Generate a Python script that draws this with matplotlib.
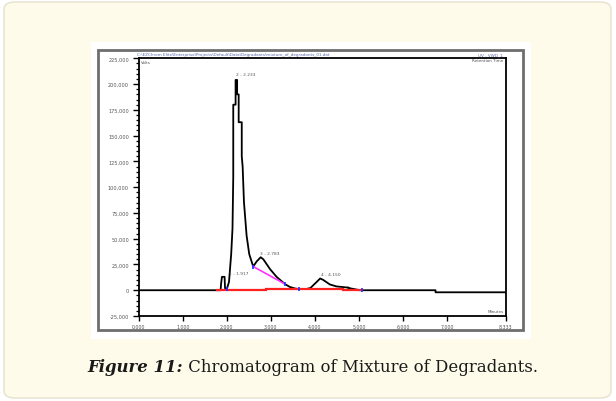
import matplotlib
matplotlib.use("Agg")
import matplotlib.pyplot as plt
from matplotlib.patches import FancyBboxPatch, Rectangle
from matplotlib.ticker import MultipleLocator, FixedLocator

# ---------------- data ----------------
trace_t = [0.00, 1.77, 1.86, 1.87, 1.89, 1.95, 1.96, 2.00, 2.05, 2.10, 2.13, 2.147, 2.147,
           2.20, 2.20, 2.235, 2.235, 2.27, 2.27, 2.34, 2.34, 2.36, 2.39, 2.45, 2.51, 2.60,
           2.68, 2.77, 2.83, 2.98, 3.13, 3.32, 3.43, 3.55, 3.62, 3.81, 3.90, 4.04, 4.12,
           4.19, 4.34, 4.49, 4.72, 4.76, 4.76, 4.99, 5.00, 6.74, 6.74, 8.333]
trace_v = [0, 0, 0, 6000, 13000, 13000, 2000, 1000, 8000, 35000, 60000, 110000, 180000,
           180000, 204000, 204000, 190000, 190000, 163000, 163000, 130000, 120000, 85500,
           53000, 35000, 23000, 28000, 32000, 30000, 20600, 13000, 6000, 3200, 1700, 1200,
           1200, 2200, 8000, 11400, 10000, 5600, 3700, 2700, 2700, 2200, 300, 0, 0, -2000,
           -2000]

baseline_segments = [((1.77, 2.90), (0, 0)), ((2.90, 4.64), (1300, 1300)), ((4.64, 5.06), (0, 0))]
drop_line_t = [2.60, 3.32]
drop_line_v = [23000, 6000]
marker_t = [2.00, 2.60, 3.32, 3.65, 5.06]
marker_v = [1000, 23000, 6000, 1200, 0]

peak_labels = ["1 - 1.917", "2 - 2.233", "3 - 2.783", "4 - 4.150"]
peak_label_t = [2.05, 2.22, 2.75, 4.13]
peak_label_v = [14800, 208000, 34000, 14000]

y_ticks = [-25000, 0, 25000, 50000, 75000, 100000, 125000, 150000, 175000, 200000, 225000]
x_ticks = [0, 1, 2, 3, 4, 5, 6, 7, 8.333]
x_tick_labels = ["0.000", "1.000", "2.000", "3.000", "4.000", "5.000", "6.000", "7.000", "8.333"]

caption_bold = "Figure 11:"
caption_rest = " Chromatogram of Mixture of Degradants."
header_path = "C:\\EZChrom Elite\\Enterprise\\Projects\\Default\\Data\\Degradants\\mixture_of_degradants_01.dat"

W, H = 616, 402
fig = plt.figure(figsize=(W / 100, H / 100), dpi=100)
fig.patch.set_facecolor("white")

def fx(x):
    return x / W

def fy(y):
    return 1 - y / H

# card
card = FancyBboxPatch((fx(4), fy(399)), fx(611) - fx(4), fy(3) - fy(399),
                      boxstyle="round,pad=0,rounding_size=0.018",
                      transform=fig.transFigure, facecolor="#fefbea",
                      edgecolor="#e9e4d3", linewidth=1.2, zorder=0)
fig.patches.append(card)
# white image area
fig.patches.append(Rectangle((fx(91), fy(340)), fx(531) - fx(91), fy(43) - fy(340),
                             transform=fig.transFigure, facecolor="white",
                             edgecolor="none", zorder=1))
# gray frame
fig.patches.append(Rectangle((fx(98), fy(331)), fx(523) - fx(98), fy(51) - fy(331),
                             transform=fig.transFigure, facecolor="none",
                             edgecolor="#6e6e6e", linewidth=2.0, zorder=2))

ax = fig.add_axes([fx(138.7), fy(317), fx(505.7) - fx(138.7), fy(59.3) - fy(317)])
ax.set_facecolor("white")
ax.set_zorder(3)

ax.plot(trace_t, trace_v, color="black", linewidth=1.3, zorder=4)
for (ts, vs) in baseline_segments:
    ax.plot(ts, vs, color="#ff2020", linewidth=1.6, zorder=5)
ax.plot(drop_line_t, drop_line_v, color="#ff33ff", linewidth=1.2, zorder=5)
ax.plot(marker_t, marker_v, linestyle="none", marker="|", markersize=3,
        color="#2030ff", markeredgewidth=1.2, zorder=6)

for lab, t, v in zip(peak_labels, peak_label_t, peak_label_v):
    ax.text(t, v, lab, fontsize=3.2, color="#555555", ha="left", va="bottom", zorder=6)

ax.set_xlim(0, 8.333)
ax.set_ylim(-25000, 225000)
ax.yaxis.set_major_locator(FixedLocator(y_ticks))
ax.yaxis.set_minor_locator(MultipleLocator(5000))
ax.set_yticklabels([f"{v:,.0f}" for v in y_ticks])
ax.xaxis.set_major_locator(FixedLocator(x_ticks))
ax.set_xticklabels(x_tick_labels)

ax.tick_params(axis="y", which="major", direction="out", length=4, width=1.0,
               labelsize=3.6, labelcolor="#555555", pad=3)
ax.tick_params(axis="y", which="minor", direction="out", length=2.5, width=0.9)
ax.tick_params(axis="x", which="major", direction="out", length=3.5, width=1.0,
               labelsize=3.4, labelcolor="#555555", pad=2)
for s in ax.spines.values():
    s.set_linewidth(1.3)
    s.set_color("black")

ax.text(0.005, 0.995, "Volts", transform=ax.transAxes, fontsize=3.0,
        color="#555555", ha="left", va="top")
ax.text(0.995, 0.01, "Minutes", transform=ax.transAxes, fontsize=3.0,
        color="#555555", ha="right", va="bottom")

fig.text(fx(137), fy(55), header_path, fontsize=3.0, color="#5d6bb0",
         ha="left", va="center", zorder=5)
fig.text(fx(503), fy(55), "UV - VWD_1", fontsize=3.0, color="#5d6bb0",
         ha="right", va="center", zorder=5)
fig.text(fx(503), fy(61.5), "Retention Time", fontsize=3.0, color="#555555",
         ha="right", va="center", zorder=5)

# caption
renderer = fig.canvas.get_renderer()
fs = 12.5
t1 = fig.text(0, fy(368), caption_bold, fontsize=fs, fontweight="bold",
              fontstyle="italic", family="DejaVu Serif", va="center", ha="left",
              color="#1a1a1a")
t2 = fig.text(0, fy(368), caption_rest, fontsize=fs, family="DejaVu Serif",
              va="center", ha="left", color="#1a1a1a")
w1 = t1.get_window_extent(renderer).width
w2 = t2.get_window_extent(renderer).width
target = 450.0
scale = target / (w1 + w2)
t1.set_fontsize(fs * scale)
t2.set_fontsize(fs * scale)
w1 = t1.get_window_extent(renderer).width
w2 = t2.get_window_extent(renderer).width
x0 = 313 - (w1 + w2) / 2
t1.set_x(fx(x0))
t2.set_x(fx(x0 + w1))

fig.savefig("out.png", dpi=100)
